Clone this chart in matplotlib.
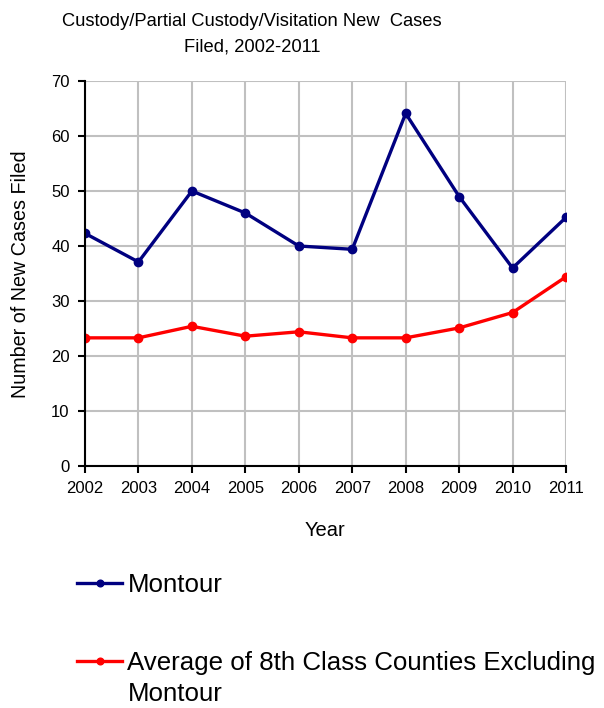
import matplotlib
matplotlib.use("Agg")
import matplotlib.pyplot as plt

# data
years = [2002, 2003, 2004, 2005, 2006, 2007, 2008, 2009, 2010, 2011]
montour = [42.3, 37.1, 50.0, 46.0, 40.0, 39.4, 64.1, 49.0, 36.0, 45.2]
avg_8th = [23.3, 23.3, 25.4, 23.6, 24.4, 23.3, 23.3, 25.1, 27.9, 34.4]
y_ticks = [0, 10, 20, 30, 40, 50, 60, 70]

plt.rcParams["font.family"] = ["Liberation Sans", "DejaVu Sans"]

W, H = 604, 708
fig = plt.figure(figsize=(W / 100, H / 100), dpi=100)
ax = fig.add_axes([85 / W, 1 - 466 / H, (566 - 85) / W, (466 - 81) / H])

l1, = ax.plot(years, montour, color="#000080", lw=2.4, marker="o", ms=6,
              label="Montour")
l2, = ax.plot(years, avg_8th, color="#ff0000", lw=2.4, marker="o", ms=6,
              label="Average of 8th Class Counties Excluding")

ax.set_xlim(years[0], years[-1])
ax.set_ylim(0, 70)
ax.set_xticks(years)
ax.set_yticks(y_ticks)
ax.tick_params(labelsize=12, length=5, width=1.5, direction="out", pad=6)
ax.grid(True, color="#c0c0c0", lw=1.5)
ax.set_axisbelow(True)
for s in ["top", "right"]:
    ax.spines[s].set_visible(False)
for s in ["left", "bottom"]:
    ax.spines[s].set_linewidth(1.5)

ax.set_xlabel("Year", fontsize=14.5)
ax.xaxis.set_label_coords(0.499, (466 - 531) / 385)
ax.xaxis.label.set_va("center")
ax.set_ylabel("Number of New Cases Filed", fontsize=14.2)
ax.yaxis.set_label_coords((21 - 85) / 481, 0.499)
ax.yaxis.label.set_va("center")

fig.text(252 / W, 1 - 21 / H, "Custody/Partial Custody/Visitation New  Cases",
         ha="center", va="center", fontsize=13.2)
fig.text(252 / W, 1 - 47 / H, "Filed, 2002-2011",
         ha="center", va="center", fontsize=13.2)

leg = fig.legend(handles=[l1, l2], loc="upper left",
                 bbox_to_anchor=(77 / W, 1 - 573 / H), frameon=False,
                 fontsize=18.6, handlelength=1.75, handletextpad=0.2,
                 borderpad=0, borderaxespad=0, labelspacing=2.1,
                 markerscale=0.8)

# second line of the red label, hung under the first line
fig.canvas.draw()
bb = leg.get_texts()[1].get_window_extent()
fig.text(bb.x0 / W, (bb.y0 + bb.y1) / 2 / H - 31 / H, "Montour",
         ha="left", va="center", fontsize=18.6)

fig.savefig("out.png", dpi=100)
